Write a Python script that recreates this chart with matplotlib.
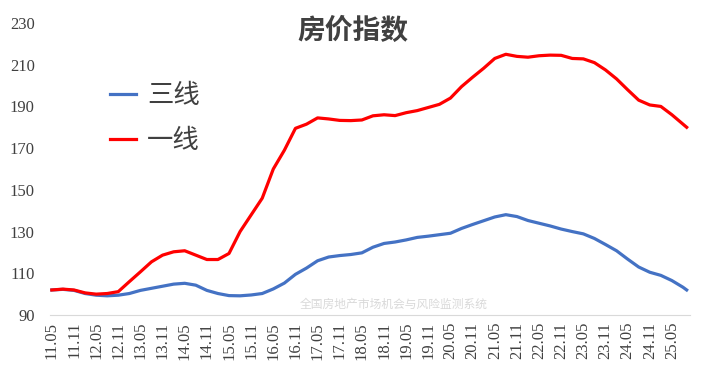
import matplotlib
matplotlib.use('Agg')
import matplotlib.pyplot as plt
from matplotlib.font_manager import FontProperties

plt.rcParams['font.family'] = ['Noto Sans CJK SC', 'DejaVu Sans']

# 季度数据 (2011.05 - 2025.08) + 最后一期 2025.09
months = ['11.05', '11.08', '11.11', '12.02', '12.05', '12.08', '12.11',
          '13.02', '13.05', '13.08', '13.11', '14.02', '14.05', '14.08', '14.11',
          '15.02', '15.05', '15.08', '15.11', '16.02', '16.05', '16.08', '16.11',
          '17.02', '17.05', '17.08', '17.11', '18.02', '18.05', '18.08', '18.11',
          '19.02', '19.05', '19.08', '19.11', '20.02', '20.05', '20.08', '20.11',
          '21.02', '21.05', '21.08', '21.11', '22.02', '22.05', '22.08', '22.11',
          '23.02', '23.05', '23.08', '23.11', '24.02', '24.05', '24.08', '24.11',
          '25.02', '25.05', '25.08', '25.09']

tier1 = [102, 102.4, 102, 100.6, 100, 100.3, 101.2,
         106, 110.7, 115.5, 118.7, 120.3, 120.8, 118.7, 116.6,
         116.6, 119.5, 130, 138, 146, 160, 169, 179.5,
         181.5, 184.5, 184, 183.3, 183.2, 183.5, 185.5, 186,
         185.6, 187, 188, 189.5, 191, 194, 199.5, 204,
         208.3, 213, 215, 214, 213.6, 214.3, 214.6, 214.5,
         213, 212.8, 211, 207.5, 203.2, 198, 193, 190.7,
         190, 186, 181.5, 180]

tier3 = [102, 102.3, 101.8, 100.3, 99.5, 99.2, 99.5,
         100.3, 101.8, 102.8, 103.8, 104.8, 105.2, 104.3, 101.8,
         100.3, 99.3, 99.2, 99.6, 100.3, 102.5, 105.3, 109.5,
         112.5, 116, 117.8, 118.5, 119, 119.8, 122.5, 124.3,
         125, 126, 127.2, 127.8, 128.5, 129.2, 131.5, 133.4,
         135.2, 137, 138.1, 137.2, 135.3, 134, 132.7, 131.2,
         130, 128.9, 126.7, 123.8, 120.8, 116.8, 113, 110.5,
         109, 106.5, 103.3, 102]

tick_labels = ['11.05', '11.11', '12.05', '12.11', '13.05', '13.11', '14.05',
               '14.11', '15.05', '15.11', '16.05', '16.11', '17.05', '17.11',
               '18.05', '18.11', '19.05', '19.11', '20.05', '20.11', '21.05',
               '21.11', '22.05', '22.11', '23.05', '23.11', '24.05', '24.11',
               '25.05']


def month_index(s):
    yy, mm = s.split('.')
    return (int(yy) - 11) * 12 + int(mm) - 5


x = [month_index(m) for m in months]
tick_pos = [month_index(t) for t in tick_labels]

fig = plt.figure(figsize=(7.03, 3.80), dpi=100)
ax = fig.add_axes([50 / 703, 65 / 380, 640 / 703, 292 / 380])

ax.plot(x, tier3, color='#4472C4', lw=2.3, label='三线')
ax.plot(x, tier1, color='#FF0000', lw=2.3, label='一线')

ax.set_xlim(-0.5, 172.9)
ax.set_ylim(90, 230)
ax.set_yticks(range(90, 231, 20))
ax.set_xticks(tick_pos)

serif = FontProperties(family='Liberation Serif', size=12)
ax.set_xticklabels(tick_labels, rotation=90, fontproperties=serif,
                   color='#404040')
ax.set_yticklabels([str(v) for v in range(90, 231, 20)],
                   fontproperties=serif, color='#404040')
ax.tick_params(axis='y', length=0, pad=11)
ax.tick_params(axis='x', length=0, pad=5)

for s in ['top', 'right', 'left']:
    ax.spines[s].set_visible(False)
ax.spines['bottom'].set_color('#d9d9d9')

fig.text(353 / 703, 1 - 31 / 380, '房价指数', ha='center', va='center',
         fontsize=20, fontweight='bold', color='#404040')
fig.text(394 / 703, 1 - 304 / 380, '全国房地产市场机会与风险监测系统',
         ha='center', va='center', fontsize=8.5, color='#d9d9d9')

leg = ax.legend(loc='upper left', bbox_to_anchor=(110 / 703, 1 - 82 / 380),
                bbox_transform=fig.transFigure, frameon=False, fontsize=19,
                handlelength=1.0, handletextpad=0.4, labelspacing=0.7,
                borderpad=0, borderaxespad=0)
for t in leg.get_texts():
    t.set_color('#404040')

fig.savefig('out.png', dpi=100)
